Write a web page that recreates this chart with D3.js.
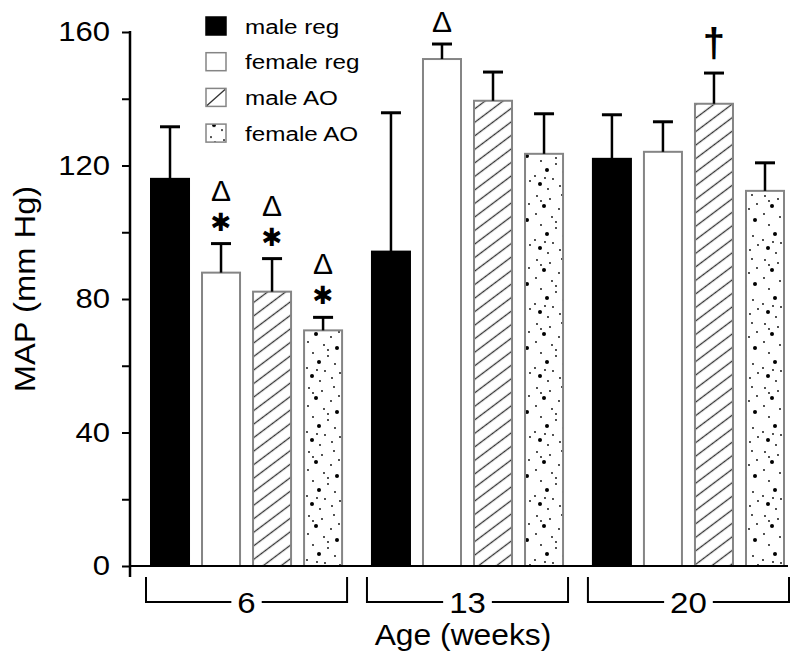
<!DOCTYPE html>
<html>
<head>
<meta charset="utf-8">
<script src="https://cdn.jsdelivr.net/npm/d3@7"></script>
<style>
  body { margin: 0; background: #fff; }
  text { font-family: "Liberation Sans", Arial, sans-serif; fill: #000; }
</style>
</head>
<body>
<script>
var groups = ["6", "13", "20"];
var seriesNames = ["male reg", "female reg", "male AO", "female AO"];

// mean MAP per series, one value per age group
var maleReg   = [116.0, 94.2, 122.0];
var femaleReg = [87.9, 151.9, 124.1];
var maleAO    = [82.2, 139.4, 138.5];
var femaleAO  = [70.6, 123.5, 112.4];

// upper error (SE) per series
var maleRegErr   = [15.6, 41.6, 13.2];
var femaleRegErr = [8.7, 4.5, 9.0];
var maleAOErr    = [9.9, 8.6, 9.2];
var femaleAOErr  = [3.9, 12.0, 8.4];

// significance marks per series, per group
var starMarks   = [[0, 0, 0], [1, 0, 0], [1, 0, 0], [1, 0, 0]];
var deltaMarks  = [[0, 0, 0], [1, 1, 0], [1, 0, 0], [1, 0, 0]];
var daggerMarks = [[0, 0, 0], [0, 0, 0], [0, 0, 1], [0, 0, 0]];

var yTicks = [0, 20, 40, 60, 80, 100, 120, 140, 160];

var means = [maleReg, femaleReg, maleAO, femaleAO];
var errs = [maleRegErr, femaleRegErr, maleAOErr, femaleAOErr];
var fills = ["#000", "#fff", "url(#hatch)", "url(#dots)"];
var strokes = ["#000", "#858585", "#858585", "#858585"];

var data = [];
groups.forEach(function (g, gi) {
    seriesNames.forEach(function (s, si) {
        data.push({group: g, name: s, si: si, value: means[si][gi], err: errs[si][gi],
                   star: starMarks[si][gi], delta: deltaMarks[si][gi], dagger: daggerMarks[si][gi]});
    });
});

var svg = d3.select("body").append("svg").attr("width", 800).attr("height", 661);

var y = d3.scaleLinear().domain([0, 160]).range([566, 32]);
var x0 = d3.scaleBand().domain(groups).range([146, 789]).paddingInner(0.09);
var x1 = d3.scaleBand().domain(seriesNames).range([0, x0.bandwidth()])
    .paddingInner(0.255).paddingOuter(0.098);

// stretch text horizontally (the reference font is a bit wide)
function stretch(sel, sx) {
    sel.each(function () {
        var t = d3.select(this);
        var tx = +t.attr("x") || 0, ty = +t.attr("y") || 0;
        var tr = t.attr("transform") || "";
        t.attr("x", 0).attr("y", 0)
         .attr("transform", tr + " translate(" + tx + "," + ty + ") scale(" + sx + ",1)");
    });
}

var defs = svg.append("defs");
var hatch = defs.append("pattern").attr("id", "hatch")
    .attr("patternUnits", "userSpaceOnUse")
    .attr("width", 10).attr("height", 10.8)
    .attr("patternTransform", "rotate(-37)");
hatch.append("rect").attr("width", 10).attr("height", 10.8).attr("fill", "#fff");
hatch.append("line").attr("x1", 0).attr("x2", 10).attr("y1", 5.4).attr("y2", 5.4)
    .attr("stroke", "#333").attr("stroke-width", 1.3);

var dotTile = [[5, 4, 0.9], [18, 7, 0.9], [30, 3, 0.9], [12, 14, 2], [27, 17, 0.9], [4, 22, 0.9],
               [20, 25, 0.9], [33, 28, 2], [9, 33, 0.9], [24, 36, 0.9], [15, 42, 2], [31, 44, 0.9],
               [3, 48, 0.9], [21, 51, 0.9], [8, 56, 2], [28, 58, 0.9], [16, 61, 0.9], [35, 12, 0.9],
               [24, 30, 0.9], [13, 50, 0.9], [36, 53, 0.9], [9, 9, 0.9]];
var dots = defs.append("pattern").attr("id", "dots")
    .attr("patternUnits", "userSpaceOnUse").attr("width", 38).attr("height", 64);
dots.append("rect").attr("width", 38).attr("height", 64).attr("fill", "#fff");
dots.selectAll("circle").data(dotTile).enter().append("circle")
    .attr("cx", function (d) { return d[0]; })
    .attr("cy", function (d) { return d[1]; })
    .attr("r", function (d) { return d[2]; })
    .attr("fill", "#000");

// bars
svg.selectAll(".bar").data(data).enter().append("rect")
    .attr("class", "bar")
    .attr("x", function (d) { return x0(d.group) + x1(d.name); })
    .attr("y", function (d) { return y(d.value); })
    .attr("width", x1.bandwidth())
    .attr("height", function (d) { return y(0) - y(d.value); })
    .attr("fill", function (d) { return fills[d.si]; })
    .attr("stroke", function (d) { return strokes[d.si]; })
    .attr("stroke-width", 2);

// error bars
var eb = svg.selectAll(".err").data(data).enter().append("g").attr("class", "err")
    .attr("transform", function (d) { return "translate(" + (x0(d.group) + x1(d.name) + x1.bandwidth() / 2) + ",0)"; });
eb.append("line")
    .attr("y1", function (d) { return y(d.value); })
    .attr("y2", function (d) { return y(d.value + d.err); })
    .attr("stroke", "#000").attr("stroke-width", 2.5);
eb.append("line")
    .attr("x1", -10).attr("x2", 10)
    .attr("y1", function (d) { return y(d.value + d.err); })
    .attr("y2", function (d) { return y(d.value + d.err); })
    .attr("stroke", "#000").attr("stroke-width", 3);

// significance marks
eb.filter(function (d) { return d.delta; }).append("text")
    .attr("y", function (d) { return y(d.value + d.err) - (d.star ? 43 : 12); })
    .attr("text-anchor", "middle")
    .style("font-size", "30px")
    .text("Δ");
eb.filter(function (d) { return d.star; }).append("text")
    .attr("y", function (d) { return y(d.value + d.err) - 22; })
    .attr("dy", "0.36em")
    .attr("text-anchor", "middle")
    .style("font-family", "'DejaVu Sans', sans-serif")
    .style("font-size", "25px")
    .text("✱");
eb.filter(function (d) { return d.dagger; }).append("text")
    .attr("y", function (d) { return y(d.value + d.err) - 16; })
    .attr("text-anchor", "middle")
    .style("font-size", "40px").style("font-weight", "bold")
    .text("†");

// y axis
var yAxis = svg.append("g").attr("transform", "translate(130,0)")
    .call(d3.axisLeft(y).tickValues(yTicks).tickSize(8).tickPadding(12)
        .tickFormat(function (d) { return d % 40 === 0 ? d : ""; }));
yAxis.select(".domain").remove();
yAxis.selectAll(".tick line").attr("stroke", "#000").attr("stroke-width", 2);
yAxis.selectAll(".tick text").style("font-size", "27px").style("font-family", null)
    .attr("x", -20 / 1.15).attr("transform", "scale(1.15,1)");
yAxis.append("line").attr("x1", 0).attr("x2", 0).attr("y1", 31).attr("y2", 577)
    .attr("stroke", "#000").attr("stroke-width", 2.5);

// x baseline
svg.append("line").attr("x1", 130).attr("x2", 788).attr("y1", y(0)).attr("y2", y(0))
    .attr("stroke", "#000").attr("stroke-width", 2);

// group brackets
groups.forEach(function (g) {
    var left = x0(g), right = x0(g) + x0.bandwidth(), mid = (left + right) / 2;
    var lab = svg.append("text").attr("x", mid).attr("y", 613)
        .attr("text-anchor", "middle").style("font-size", "30px").text(g);
    var w = lab.node().getComputedTextLength() * 1.1;
    stretch(lab, 1.1);
    svg.append("path")
        .attr("d", "M" + left + ",577V602H" + (mid - w / 2 - 6) +
                   "M" + (mid + w / 2 + 6) + ",602H" + right + "V577")
        .attr("fill", "none").attr("stroke", "#000").attr("stroke-width", 2);
});

// axis titles
stretch(svg.append("text").attr("x", 463).attr("y", 645).attr("text-anchor", "middle")
    .style("font-size", "30px").text("Age (weeks)"), 1.06);
svg.append("text").attr("transform", "translate(35,289) rotate(-90) scale(1.09,1)")
    .attr("text-anchor", "middle").style("font-size", "30px").text("MAP (mm Hg)");

// legend
var legend = svg.selectAll(".legend").data(seriesNames).enter().append("g")
    .attr("class", "legend")
    .attr("transform", function (d, i) { return "translate(206," + (26 + i * 35.7) + ")"; });
legend.append("rect")
    .attr("x", 0).attr("y", -9).attr("width", 20).attr("height", 18)
    .attr("fill", function (d, i) { return i === 2 ? "#fff" : fills[i]; })
    .attr("stroke", function (d, i) { return strokes[i]; })
    .attr("stroke-width", 1.5);
legend.filter(function (d, i) { return i === 2; }).append("line")
    .attr("x1", 1).attr("y1", 8).attr("x2", 19).attr("y2", -8)
    .attr("stroke", "#333").attr("stroke-width", 1.3);
legend.append("text").attr("x", 39).attr("y", 7.5)
    .style("font-size", "21px")
    .text(function (d) { return d; })
    .call(stretch, 1.155);
</script>
</body>
</html>
